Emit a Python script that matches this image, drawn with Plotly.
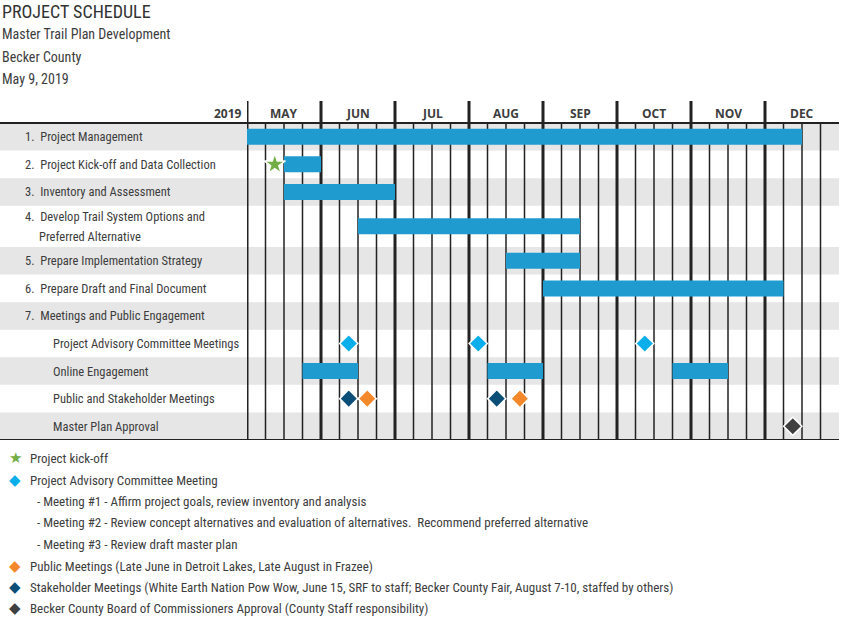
import plotly.graph_objects as go

# ---- data ----
months = ["MAY", "JUN", "JUL", "AUG", "SEP", "OCT", "NOV", "DEC"]
weeks_per_month = 4

rows = [
    "1.  Project Management",
    "2.  Project Kick-off and Data Collection",
    "3.  Inventory and Assessment",
    "4.  Develop Trail System Options and|Preferred Alternative",
    "5.  Prepare Implementation Strategy",
    "6.  Prepare Draft and Final Document",
    "7.  Meetings and Public Engagement",
    "Project Advisory Committee Meetings",
    "Online Engagement",
    "Public and Stakeholder Meetings",
    "Master Plan Approval",
]
sub_rows = [7, 8, 9, 10]

# bars: row index, start week, end week (week 0 = start of May)
bar_rows = [0, 1, 2, 3, 4, 5, 8, 8, 8]
bar_start = [0, 2, 2, 6, 14, 16, 3, 13, 23]
bar_end = [30, 4, 8, 18, 18, 29, 6, 16, 26]

kickoff_row = [1]
kickoff_week = [1.5]
pac_row = [7, 7, 7]
pac_week = [5.5, 12.5, 21.5]
stake_row = [9, 9]
stake_week = [5.5, 13.5]
public_row = [9, 9]
public_week = [6.5, 14.75]
approval_row = [10]
approval_week = [29.5]

legend_items = [
    ("star", "Project kick-off"),
    ("pac", "Project Advisory Committee Meeting"),
    (None, "- Meeting #1 - Affirm project goals, review inventory and analysis"),
    (None, "- Meeting #2 - Review concept alternatives and evaluation of alternatives.  Recommend preferred alternative"),
    (None, "- Meeting #3 - Review draft master plan"),
    ("public", "Public Meetings (Late June in Detroit Lakes, Late August in Frazee)"),
    ("stake", "Stakeholder Meetings (White Earth Nation Pow Wow, June 15, SRF to staff; Becker County Fair, August 7-10, staffed by others)"),
    ("approval", "Becker County Board of Commissioners Approval (County Staff responsibility)"),
]

# ---- styling ----
W, H = 842, 619
FONT = "Liberation Sans Narrow, Roboto Condensed, DejaVu Sans Condensed, sans-serif"
HEAD_FONT = "Open Sans, sans-serif"
TXT = "#3d3d3d"
BAR = "#1f9bcf"
GRAY = "#e6e6e6"
LINE = "#222222"
COLORS = {"star": "#72ad45", "pac": "#0aaeea", "public": "#f4892c",
          "stake": "#0b4f78", "approval": "#3f3f3f"}

x_left, x_right = 247, 839          # plot area in px
y_head, y_top, y_bot = 101, 123, 440
row_h = [1.5 if "|" in r else 1 for r in rows]
total = sum(row_h)
unit = (y_bot - y_top) / total
head_units = (y_top - y_head) / unit

tops = []
acc = 0
for h in row_h:
    tops.append(acc)
    acc += h
centers = [t + h / 2 for t, h in zip(tops, row_h)]
n_weeks = len(months) * weeks_per_month


def px(x):
    return x / W


def py(y):
    return 1 - y / H


fig = go.Figure()

fig.add_trace(go.Bar(
    orientation="h",
    y=[centers[r] for r in bar_rows],
    base=bar_start,
    x=[e - s for s, e in zip(bar_start, bar_end)],
    width=16 / unit,
    marker=dict(color=BAR, line=dict(width=0)),
    hoverinfo="skip",
))


def add_markers(rws, wks, symbol, color, size):
    fig.add_trace(go.Scatter(
        x=wks, y=[centers[r] for r in rws], mode="markers",
        marker=dict(symbol=symbol, color=color, size=size,
                    line=dict(color="white", width=1.5)),
        hoverinfo="skip",
    ))


add_markers(kickoff_row, kickoff_week, "star", COLORS["star"], 16)
add_markers(pac_row, pac_week, "diamond", COLORS["pac"], 14)
add_markers(stake_row, stake_week, "diamond", COLORS["stake"], 14)
add_markers(public_row, public_week, "diamond", COLORS["public"], 14)
add_markers(approval_row, approval_week, "diamond", COLORS["approval"], 14)

shapes = []
# alternating bands
for i, (t, h) in enumerate(zip(tops, row_h)):
    if i % 2 == 0:
        shapes.append(dict(type="rect", xref="paper", yref="y", x0=0, x1=px(x_right),
                           y0=t, y1=t + h, fillcolor=GRAY, line_width=0, layer="below"))
# week lines
for k in range(n_weeks):
    if k % weeks_per_month == 0:
        shapes.append(dict(type="line", xref="x", yref="y", x0=k, x1=k,
                           y0=-head_units, y1=total, line=dict(color=LINE, width=3),
                           layer="below"))
    else:
        shapes.append(dict(type="line", xref="x", yref="y", x0=k, x1=k,
                           y0=0, y1=total, line=dict(color=LINE, width=1.5),
                           layer="below"))
for yv in (0, total):
    shapes.append(dict(type="line", xref="paper", yref="y", x0=0, x1=px(x_right),
                       y0=yv, y1=yv, line=dict(color=LINE, width=1.8)))

ann = []
# month labels
for i, m in enumerate(months):
    ann.append(dict(text=f"<b>{m}</b>", xref="x", yref="y",
                    x=i * weeks_per_month + weeks_per_month / 2, y=-head_units / 2 + 0.05,
                    showarrow=False, font=dict(family=HEAD_FONT, size=12, color=TXT)))
ann.append(dict(text="<b>2019</b>", xref="paper", yref="y", x=px(244), y=-head_units / 2 + 0.05,
                xanchor="right", showarrow=False, font=dict(family=HEAD_FONT, size=12, color=TXT)))

# row labels
ROW_SIZE = 12.5
for i, r in enumerate(rows):
    x0 = 51 if i in sub_rows else 23
    if "|" in r:
        a, b = r.split("|")
        ann.append(dict(text=a, xref="paper", yref="y", x=px(x0), y=centers[i] - 0.36,
                        xanchor="left", showarrow=False, font=dict(family=FONT, size=ROW_SIZE, color=TXT)))
        ann.append(dict(text=b, xref="paper", yref="y", x=px(37), y=centers[i] + 0.36,
                        xanchor="left", showarrow=False, font=dict(family=FONT, size=ROW_SIZE, color=TXT)))
    else:
        ann.append(dict(text=r, xref="paper", yref="y", x=px(x0), y=centers[i],
                        xanchor="left", showarrow=False, font=dict(family=FONT, size=ROW_SIZE, color=TXT)))

# title block
ann.append(dict(text="PROJECT SCHEDULE", xref="paper", yref="paper", x=px(0), y=py(11),
                xanchor="left", yanchor="middle", showarrow=False,
                font=dict(family=FONT, size=18, color="#333333")))
for txt, yy in [("Master Trail Plan Development", 34), ("Becker County", 57), ("May 9, 2019", 79)]:
    ann.append(dict(text=txt, xref="paper", yref="paper", x=px(0), y=py(yy),
                    xanchor="left", yanchor="middle", showarrow=False,
                    font=dict(family=FONT, size=14, color=TXT)))

# legend
leg_y = [458, 480, 501, 522, 544, 566, 587, 608]
for (key, txt), yy in zip(legend_items, leg_y):
    if key is None:
        ann.append(dict(text=txt, xref="paper", yref="paper", x=px(35), y=py(yy),
                        xanchor="left", yanchor="middle", showarrow=False,
                        font=dict(family=FONT, size=13, color=TXT)))
        continue
    sym = "\u2605" if key == "star" else "\u25c6"
    ann.append(dict(text=sym, xref="paper", yref="paper", x=px(15), y=py(yy),
                    xanchor="center", yanchor="middle", showarrow=False,
                    font=dict(family="DejaVu Sans", size=15, color=COLORS[key])))
    ann.append(dict(text=txt, xref="paper", yref="paper", x=px(28), y=py(yy),
                    xanchor="left", yanchor="middle", showarrow=False,
                    font=dict(family=FONT, size=13, color=TXT)))

fig.update_layout(
    width=W, height=H, autosize=False,
    margin=dict(l=0, r=0, t=0, b=0),
    paper_bgcolor="white", plot_bgcolor="rgba(0,0,0,0)",
    showlegend=False, barmode="overlay",
    xaxis=dict(domain=[px(x_left), px(x_right)], range=[0, n_weeks],
               showgrid=False, zeroline=False, showticklabels=False, ticks=""),
    yaxis=dict(domain=[py(y_bot), py(y_head)], range=[total, -head_units],
               showgrid=False, zeroline=False, showticklabels=False, ticks=""),
    shapes=shapes, annotations=ann,
)

fig.write_html("out.html", config={"displayModeBar": False},
               post_script="document.body.style.margin='0';")
